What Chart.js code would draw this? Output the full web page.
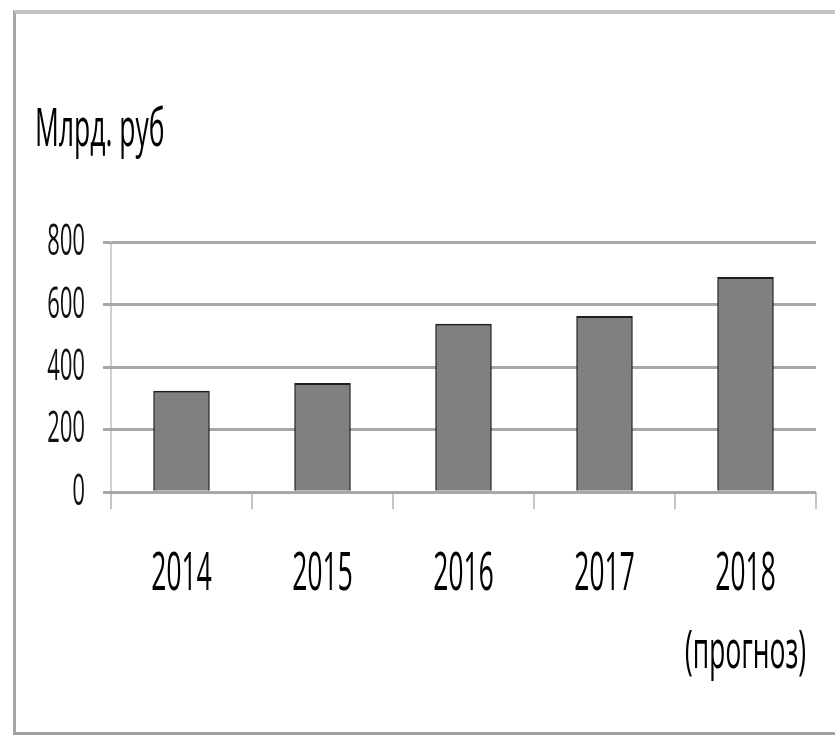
<!DOCTYPE html>
<html>
<head>
<meta charset="utf-8">
<script src="https://cdn.jsdelivr.net/npm/chart.js@4/dist/chart.umd.min.js"></script>
<style>
  html,body{margin:0;padding:0;background:#fff;overflow:hidden;}
  #frame{position:absolute;left:13px;top:10px;width:1000px;height:718px;
    border-left:3px solid #a6a6a6;border-top:4px solid #c4c4c4;border-bottom:3px solid #a0a0a0;}
  #c{position:absolute;left:0;top:0;}
</style>
</head>
<body>
<div id="frame"></div>
<!-- canvas is drawn twice as wide and squeezed, the picture has narrow text -->
<canvas id="c" width="1670" height="735" style="width:835px;height:735px"></canvas>
<script>
// data
var years=['2014','2015','2016','2017',['2018','(прогноз)']];
var values=[325,350,540,565,690];
var yTicks=[0,200,400,600,800];
var title_text='Млрд. руб';

let ctx=document.querySelector('#c').getContext('2d');

let chart=new Chart(ctx,{
    type:'bar',
    data:{
        labels:years,
        datasets:[{
            data:values,
            backgroundColor:'#808080',
            borderColor:'#1e1e1e',
            borderWidth:{top:2,left:3,right:3,bottom:0},
            borderSkipped:false,
            barPercentage:0.4,
            categoryPercentage:1
        }]
    },
    options:{
        responsive:false,
        devicePixelRatio:1,
        animation:false,
        layout:{padding:{left:70,right:38,top:99,bottom:16}},
        plugins:{
            legend:{display:false},
            tooltip:{enabled:false},
            title:{
                display:true,
                text:title_text,
                align:'start',
                color:'#000',
                font:{family:'"Open Sans"',size:53,weight:'normal'},
                padding:{top:0,bottom:80}
            }
        },
        scales:{
            x:{
                offset:true,
                grid:{drawOnChartArea:false,drawTicks:true,tickLength:17,color:'#8c8c8c',lineWidth:2,offset:true},
                border:{display:false},
                ticks:{color:'#000',padding:27,maxRotation:0,autoSkip:false,
                    font:{family:'"Open Sans"',size:53,weight:'normal',lineHeight:1.47}}
            },
            y:{
                min:0,max:800,
                afterBuildTicks:(s)=>{s.ticks=yTicks.map(v=>({value:v}));},
                afterFit:(s)=>{s.width=152;},
                grid:{color:'#a8a8a8',lineWidth:3,tickLength:16},
                border:{display:true,color:'#a0a0a0',width:2},
                ticks:{color:'#111',padding:36,autoSkip:false,font:{family:'"Open Sans"',size:44,weight:'normal'}}
            }
        }
    }
});
</script>
</body>
</html>
